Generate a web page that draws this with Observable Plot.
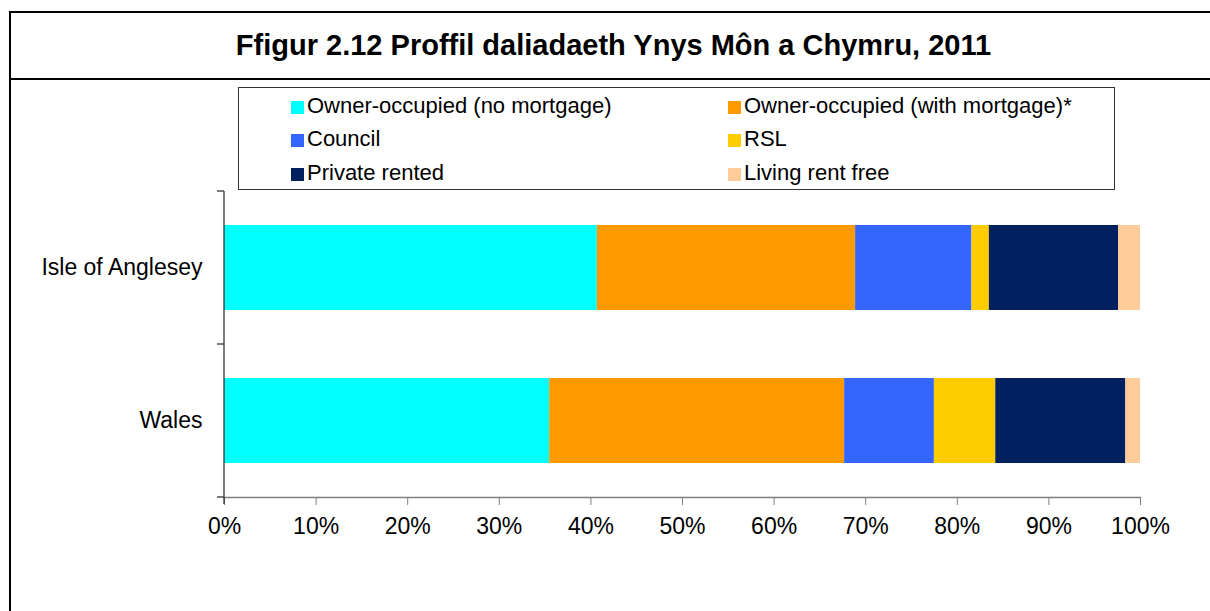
<!DOCTYPE html>
<html>
<head>
<meta charset="utf-8">
<script src="https://cdn.jsdelivr.net/npm/d3@7"></script>
<script src="https://cdn.jsdelivr.net/npm/@observablehq/plot@0.6"></script>
<style>
  html, body { margin: 0; padding: 0; background: #fff; width: 1210px; height: 611px; overflow: hidden; }
  body { position: relative; font-family: "Liberation Sans", Arial, sans-serif; color: #000; }
  #frame { position: absolute; left: 9px; top: 11px; width: 1215px; height: 700px; border: 2px solid #000; box-sizing: border-box; z-index: 2; pointer-events: none; }
  #sep { position: absolute; left: 9px; top: 78px; width: 1215px; height: 0; border-top: 2px solid #000; z-index: 2; }
  #title { position: absolute; left: 9px; width: 1209px; top: 31px; text-align: center; font-weight: bold; font-size: 29px; line-height: 29px; white-space: nowrap; z-index: 2; }
  #chart { position: absolute; left: 0; top: 0; z-index: 1; }
  #legend { position: absolute; left: 238px; top: 87px; width: 877px; height: 103px; border: 1px solid #333; box-sizing: border-box; background: #fff; z-index: 3; }
  .item { position: absolute; font-size: 22px; line-height: 26px; white-space: nowrap; }
  .sw { position: absolute; width: 13px; height: 13px; }
</style>
</head>
<body>
<div id="frame"></div>
<div id="sep"></div>
<div id="title">Ffigur 2.12 Proffil daliadaeth Ynys Môn a Chymru, 2011</div>
<div id="chart"></div>
<div id="legend"></div>
<script>
// ---- data ----
const categories = ["Isle of Anglesey", "Wales"];
const series = [
  "Owner-occupied (no mortgage)",
  "Owner-occupied (with mortgage)*",
  "Council",
  "RSL",
  "Private rented",
  "Living rent free"
];
const angleseyValues = [40.7, 28.2, 12.7, 1.9, 14.1, 2.4];
const walesValues = [35.5, 32.2, 9.8, 6.7, 14.2, 1.6];
const colors = ["#00FFFF", "#FF9900", "#3366FF", "#FFCC00", "#002060", "#FFCC99"];
const xTicks = [0, 10, 20, 30, 40, 50, 60, 70, 80, 90, 100];

const valuesByCategory = [angleseyValues, walesValues];
const data = [];
categories.forEach((c, i) => {
  series.forEach((s, j) => data.push({category: c, series: s, value: valuesByCategory[i][j]}));
});

// custom category-boundary ticks and y axis line, using Plot's scales
function yAxisDecor(index, scales, values, dimensions) {
  const y = scales.y;
  const {marginLeft, marginTop, height, marginBottom} = dimensions;
  const bw = y.bandwidth ? y.bandwidth() : (height - marginTop - marginBottom) / categories.length;
  const edges = categories.map(c => y(c)).concat([y(categories[categories.length - 1]) + bw]);
  const g = d3.create("svg:g").attr("stroke", "#333").attr("stroke-width", 1.3);
  g.append("line")
    .attr("x1", marginLeft).attr("x2", marginLeft)
    .attr("y1", edges[0]).attr("y2", edges[edges.length - 1] + 7);
  for (const e of edges) {
    g.append("line").attr("x1", marginLeft - 7).attr("x2", marginLeft).attr("y1", e).attr("y2", e);
  }
  return g.node();
}

const chart = Plot.plot({
  width: 1210,
  height: 560,
  marginTop: 191,
  marginBottom: 63,
  marginLeft: 224,
  marginRight: 70,
  style: {background: "transparent", fontFamily: "'Liberation Sans', Arial, sans-serif", fontSize: "23px", color: "#000", overflow: "visible"},
  x: {domain: [0, 100]},
  y: {domain: categories, padding: 0, label: null},
  color: {domain: series, range: colors},
  marks: [
    Plot.barX(data, {
      y: "category",
      x: "value",
      fill: "series",
      order: series,
      insetTop: 34,
      insetBottom: 34
    }),
    Plot.frame({anchor: "bottom", stroke: "#808080", strokeWidth: 1.3}),
    Plot.axisX({ticks: xTicks, tickFormat: d => d + "%", tickSize: 8, tickPadding: 12, stroke: "#808080", fontSize: 23, label: null}),
    Plot.axisY({tickSize: 0, tickPadding: 22, fontSize: 23, label: null}),
    yAxisDecor
  ]
});
document.getElementById("chart").appendChild(chart);

// ---- legend ----
const legend = document.getElementById("legend");
const colX = [52, 489];       // swatch x relative to legend box
const rowC = [17.5, 51, 84.5]; // text cap centers relative to legend box
series.forEach((s, i) => {
  const col = i % 2, row = Math.floor(i / 2);
  const sw = document.createElement("div");
  sw.className = "sw";
  sw.style.background = colors[i];
  sw.style.left = colX[col] + "px";
  sw.style.top = (rowC[row] - 5) + "px";
  legend.appendChild(sw);
  const t = document.createElement("div");
  t.className = "item";
  t.textContent = s;
  t.style.left = (colX[col] + 16) + "px";
  t.style.top = (rowC[row] - 13) + "px";
  legend.appendChild(t);
});
</script>
</body>
</html>
